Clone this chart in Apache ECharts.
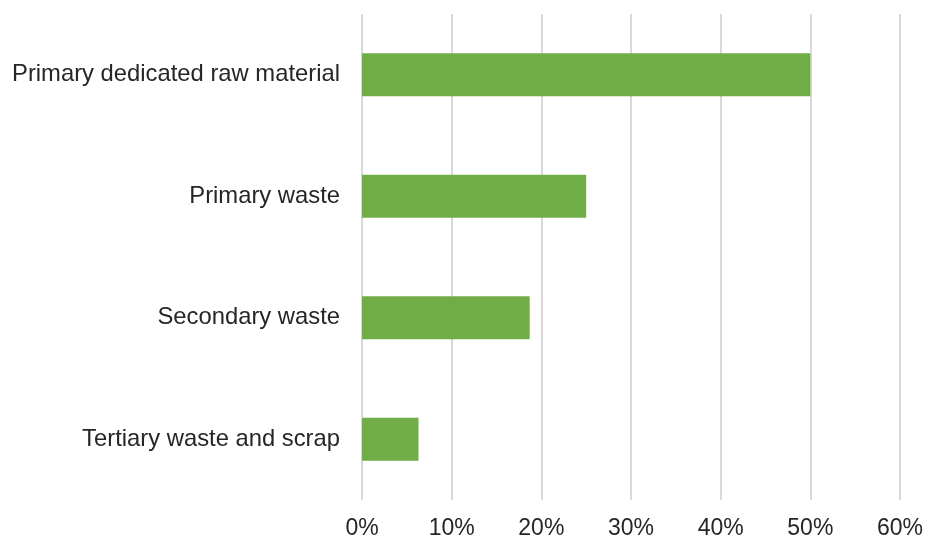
<!DOCTYPE html>
<html><head><meta charset="utf-8">
<script src="https://cdn.jsdelivr.net/npm/echarts@6/dist/echarts.min.js"></script>
<style>html,body{margin:0;padding:0;background:#fff}#c{width:928px;height:540px}</style>
</head><body><div id="c"></div>
<script>
const categories = ["Primary dedicated raw material", "Primary waste", "Secondary waste", "Tertiary waste and scrap"];
const values = [50, 25, 18.7, 6.3];
const xTicks = [0, 10, 20, 30, 40, 50, 60];

const chart = echarts.init(document.getElementById('c'));
chart.setOption({
  animation: false,
  grid: {left: 362, right: 28, top: 14, bottom: 39, containLabel: false},
  xAxis: {
    type: 'value', min: xTicks[0], max: xTicks[xTicks.length - 1], interval: 10,
    axisLine: {show: false}, axisTick: {show: false},
    splitLine: {show: true, lineStyle: {color: '#d9d9d9', width: 2}},
    axisLabel: {formatter: v => v + '%', color: '#262626', fontFamily: 'Liberation Sans, Arial', fontSize: 23, margin: 17}
  },
  yAxis: {
    type: 'category', data: categories, inverse: true,
    axisLine: {show: false}, axisTick: {show: false},
    axisLabel: {color: '#262626', fontFamily: 'Liberation Sans, Arial', fontSize: 23.8, margin: 22, padding: [4, 0, 0, 0]}
  },
  series: [{
    type: 'bar', data: values, barWidth: 43,
    itemStyle: {color: '#70ad47'}
  }]
});
</script></body></html>
